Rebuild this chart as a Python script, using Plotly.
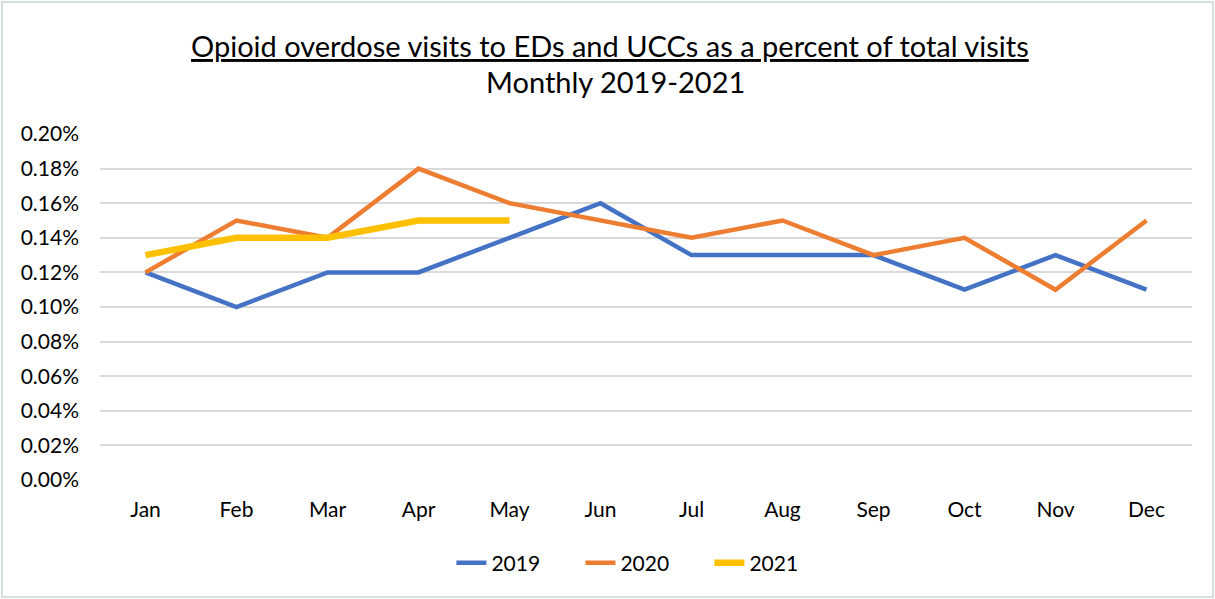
import plotly.graph_objects as go

months = ["Jan", "Feb", "Mar", "Apr", "May", "Jun", "Jul", "Aug", "Sep", "Oct", "Nov", "Dec"]
v2019 = [0.0012, 0.0010, 0.0012, 0.0012, 0.0014, 0.0016, 0.0013, 0.0013, 0.0013, 0.0011, 0.0013, 0.0011]
v2020 = [0.0012, 0.0015, 0.0014, 0.0018, 0.0016, 0.0015, 0.0014, 0.0015, 0.0013, 0.0014, 0.0011, 0.0015]
v2021 = [0.0013, 0.0014, 0.0014, 0.0015, 0.0015]
ytick_vals = [0.0, 0.0002, 0.0004, 0.0006, 0.0008, 0.0010, 0.0012, 0.0014, 0.0016, 0.0018, 0.0020]

W, H = 1215, 599
L, R, T, B = 100, 23, 134, 119
FONT = "Lato"

fig = go.Figure()
for name, vals, col, lw in [("2019", v2019, "#4472C4", 4.5), ("2020", v2020, "#ED7D31", 4.5),
                            ("2021", v2021, "#FFC000", 6.5)]:
    fig.add_trace(go.Scatter(x=months[:len(vals)], y=vals, mode="lines", name=name,
                             line=dict(color=col, width=lw)))

pw = W - L - R
ph = H - T - B
fig.update_layout(
    width=W, height=H,
    margin=dict(l=L, r=R, t=T, b=B),
    paper_bgcolor="white", plot_bgcolor="white",
    font=dict(family=FONT, size=21, color="#000000"),
    showlegend=True,
    legend=dict(orientation="h", x=0.499, xanchor="center", y=-(563 - 480) / ph, yanchor="middle",
                font=dict(size=21), itemwidth=30, traceorder="normal",
                entrywidth=84, entrywidthmode="pixels"),
    annotations=[
        dict(text="<u>Opioid overdose visits to EDs and UCCs as a percent of total visits</u>",
             xref="paper", yref="paper", x=(610 - L) / pw, y=1 + (T - 45) / ph,
             xanchor="center", yanchor="middle", showarrow=False, font=dict(size=29)),
        dict(text="Monthly 2019-2021",
             xref="paper", yref="paper", x=(615 - L) / pw, y=1 + (T - 81) / ph,
             xanchor="center", yanchor="middle", showarrow=False, font=dict(size=29)),
    ],
    shapes=[dict(type="rect", xref="paper", yref="paper",
                 x0=-(L - 2) / pw, x1=1 + (R - 2) / pw, y0=-(B - 2) / ph, y1=1 + (T - 2) / ph,
                 line=dict(color="#D5E0DA", width=2), fillcolor="rgba(0,0,0,0)", layer="below")],
)
fig.update_xaxes(type="category", showgrid=False, showline=False, zeroline=False,
                 ticks="", ticklabelstandoff=15, range=[-0.5, 11.5])
fig.update_yaxes(range=[0, 0.002], tickvals=ytick_vals, tickformat=".2%",
                 showgrid=True, gridcolor="#D9D9D9", gridwidth=1.5, zeroline=False,
                 showline=False, ticks="", ticklabelstandoff=20)

fig.write_html("out.html", config={"displayModeBar": False},
               post_script="document.body.style.margin='0';document.body.style.overflow='hidden';")
